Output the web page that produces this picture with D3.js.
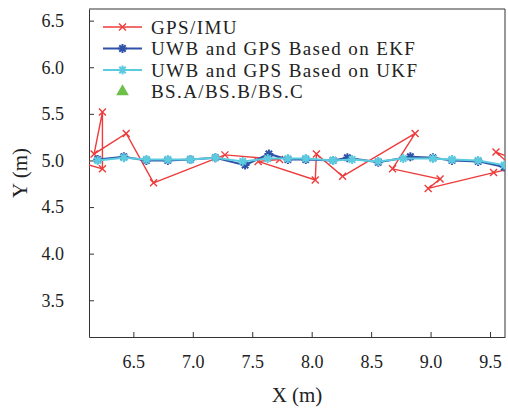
<!doctype html>
<html lang="en">
<head>
<meta charset="UTF-8">
<title>GPS/IMU vs UWB+GPS trajectory</title>
<style>
    body { margin: 0; background: #fff; }
    .axis text { font-family: "Liberation Serif", serif; font-size: 18px; fill: #222; }
    .axis path, .axis line { stroke: #333; fill: none; }
    .label { font-family: "Liberation Serif", serif; font-size: 21px; fill: #222; }
    .legend text { font-family: "Liberation Serif", serif; font-size: 19px; letter-spacing: 1.4px; fill: #222; }
</style>
</head>
<body>
<svg class="chart"></svg>
<script src="https://d3js.org/d3.v7.min.js"></script>
<script>
    // GPS/IMU track (red, x markers)
    var gpsX = [6.10, 6.24, 6.24, 6.17, 6.44, 6.67, 7.27, 7.73, 7.55, 8.03, 8.04, 8.26, 8.87, 8.68, 9.08, 8.98, 9.53, 9.70, 9.55, 9.70];
    var gpsY = [4.96, 4.91, 5.52, 5.07, 5.29, 4.76, 5.06, 5.01, 4.99, 4.79, 5.07, 4.83, 5.29, 4.91, 4.80, 4.70, 4.87, 4.92, 5.09, 5.02];

    // UWB + GPS, EKF (dark blue)
    var ekfX = [6.20, 6.42, 6.61, 6.79, 6.98, 7.19, 7.44, 7.64, 7.80, 7.95, 8.18, 8.30, 8.56, 8.83, 9.02, 9.18, 9.40, 9.62];
    var ekfY = [5.01, 5.04, 5.00, 5.00, 5.01, 5.03, 4.95, 5.07, 5.01, 5.01, 5.00, 5.03, 4.98, 5.04, 5.03, 5.00, 4.99, 4.93];

    // UWB + GPS, UKF (cyan)
    var ukfX = [6.20, 6.42, 6.61, 6.79, 6.98, 7.19, 7.42, 7.63, 7.80, 7.95, 8.18, 8.34, 8.56, 8.77, 9.02, 9.18, 9.40, 9.62];
    var ukfY = [5.00, 5.03, 5.01, 5.01, 5.01, 5.03, 4.99, 5.02, 5.02, 5.02, 5.00, 5.01, 4.99, 5.02, 5.02, 5.01, 5.00, 4.95];

    var xTicks = [6.5, 7.0, 7.5, 8.0, 8.5, 9.0, 9.5];
    var yTicks = [3.5, 4.0, 4.5, 5.0, 5.5, 6.0, 6.5];
    var legendNames = ["GPS/IMU", "UWB and GPS Based on EKF", "UWB and GPS Based on UKF", "BS.A/BS.B/BS.C"];

    var red = "#ee3b3b", blue = "#2f52a8", cyan = "#5ccbe0", green = "#6cc04a";

    var totalWidth = 508, totalHeight = 409;
    var margin = {top: 9, right: 3, bottom: 72, left: 89};
    var width = totalWidth - margin.left - margin.right;
    var height = totalHeight - margin.top - margin.bottom;

    var x = d3.scaleLinear().domain([6.127, 9.626]).range([0, width]);
    var y = d3.scaleLinear().domain([3.106, 6.625]).range([height, 0]);

    var svg = d3.select(".chart")
        .attr("width", totalWidth)
        .attr("height", totalHeight);

    var g = svg.append("g")
        .attr("transform", "translate(" + margin.left + "," + margin.top + ")");

    svg.append("defs").append("clipPath").attr("id", "plot-clip")
        .append("rect").attr("width", width).attr("height", height);

    // axes, ticks point inward
    var xAxis = g.append("g").attr("class", "x axis")
        .attr("transform", "translate(0," + height + ")")
        .call(d3.axisBottom(x).tickValues(xTicks).tickFormat(d3.format(".1f"))
            .tickSizeInner(-5).tickSizeOuter(0).tickPadding(18));

    var yAxis = g.append("g").attr("class", "y axis")
        .call(d3.axisLeft(y).tickValues(yTicks).tickFormat(d3.format(".1f"))
            .tickSizeInner(-5).tickSizeOuter(0).tickPadding(25));

    xAxis.attr("font-family", null).attr("font-size", null);
    yAxis.attr("font-family", null).attr("font-size", null);

    // top and right border
    g.append("line").attr("x1", 0).attr("x2", width).attr("y1", 0).attr("y2", 0)
        .attr("stroke", "#333");
    g.append("line").attr("x1", width).attr("x2", width).attr("y1", 0).attr("y2", height)
        .attr("stroke", "#333");

    // axis titles
    g.append("text").attr("class", "label")
        .attr("x", width / 2).attr("y", height + 65)
        .attr("text-anchor", "middle")
        .text("X (m)");

    g.append("text").attr("class", "label")
        .attr("transform", "translate(" + (-62) + "," + (height / 2) + ") rotate(-90)")
        .attr("text-anchor", "middle")
        .text("Y (m)");

    function zip(xs, ys) {
        return xs.map(function(d, i) { return [d, ys[i]]; });
    }

    var line = d3.line()
        .x(function(d) { return x(d[0]); })
        .y(function(d) { return y(d[1]); });

    var xMark = "M-3.5,-3.5L3.5,3.5M-3.5,3.5L3.5,-3.5";
    var starMark = "M-4.5,0L4.5,0M0,-4.5L0,4.5M-3.2,-3.2L3.2,3.2M-3.2,3.2L3.2,-3.2";

    var plot = g.append("g").attr("clip-path", "url(#plot-clip)");

    function drawSeries(data, color, lw, marker, mw) {
        plot.append("path").datum(data)
            .attr("fill", "none")
            .attr("stroke", color)
            .attr("stroke-width", lw)
            .attr("d", line);
        plot.selectAll(null).data(data).enter()
            .append("path")
            .attr("transform", function(d) { return "translate(" + x(d[0]) + "," + y(d[1]) + ")"; })
            .attr("d", marker)
            .attr("stroke", color)
            .attr("stroke-width", mw)
            .attr("fill", "none");
    }

    drawSeries(zip(gpsX, gpsY), red, 1.4, xMark, 1.4);
    drawSeries(zip(ekfX, ekfY), blue, 2, starMark, 2);
    drawSeries(zip(ukfX, ukfY), cyan, 2, starMark, 2);

    // legend (no box)
    var legend = g.append("g").attr("class", "legend")
        .attr("transform", "translate(14,18)");
    var rowH = 21.5;
    var styles = [
        {color: red, marker: xMark},
        {color: blue, marker: starMark},
        {color: cyan, marker: starMark},
        {color: green, marker: null}
    ];
    legendNames.forEach(function(name, i) {
        var row = legend.append("g").attr("transform", "translate(0," + (i * rowH) + ")");
        var s = styles[i];
        if (s.marker) {
            row.append("line").attr("x1", 0).attr("x2", 39).attr("y1", 0).attr("y2", 0)
                .attr("stroke", s.color).attr("stroke-width", i === 0 ? 1.4 : 2);
            row.append("path").attr("transform", "translate(19.5,0)")
                .attr("d", s.marker).attr("stroke", s.color)
                .attr("stroke-width", i === 0 ? 1.4 : 2).attr("fill", "none");
        } else {
            row.append("path").attr("transform", "translate(19.5,0)")
                .attr("d", d3.symbol().type(d3.symbolTriangle).size(70))
                .attr("fill", s.color);
        }
        row.append("text").attr("x", 48).attr("y", 0).attr("dy", "0.35em").text(name);
    });
</script>
</body>
</html>
